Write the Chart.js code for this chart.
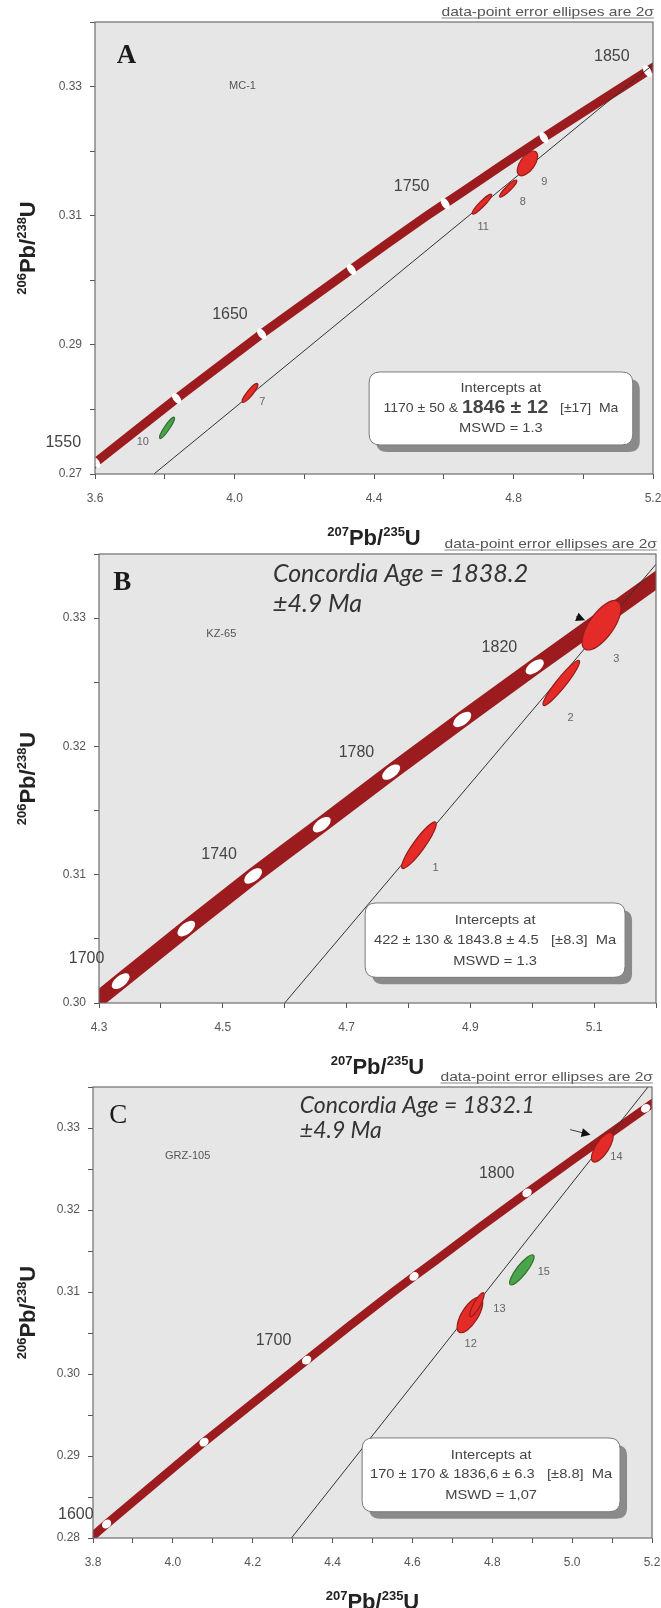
<!DOCTYPE html>
<html>
<head>
<meta charset="utf-8">
<script src="https://cdn.jsdelivr.net/npm/chart.js@4.4.1/dist/chart.umd.min.js"></script>
<style>
	html, body { margin: 0; padding: 0; background: #ffffff; }
	#page { position: relative; width: 661px; height: 1608px; overflow: hidden; }
	.panel { position: absolute; left: 0; width: 661px; height: 546px; }
</style>
</head>
<body>
<div id="page">
	<div class="panel" style="top:0px"><canvas id="chartA" width="661" height="546"></canvas></div>
	<div class="panel" style="top:530px"><canvas id="chartB" width="661" height="546"></canvas></div>
	<div class="panel" style="top:1062px"><canvas id="chartC" width="661" height="546"></canvas></div>
</div>
<script>
// concordia curve, read along the band (age in Ma, 207Pb/235U, 206Pb/238U)
var concAge = [1540, 1550, 1590, 1600, 1650, 1700, 1720, 1740, 1750, 1760, 1780, 1800, 1820, 1840, 1850, 1860];
var concX = [3.557, 3.602, 3.787, 3.834, 4.078, 4.335, 4.441, 4.549, 4.604, 4.660, 4.772, 4.887, 5.004, 5.123, 5.184, 5.245];
var concY = [0.2698, 0.2718, 0.2797, 0.2817, 0.2917, 0.3017, 0.3058, 0.3099, 0.3119, 0.3139, 0.3180, 0.3221, 0.3262, 0.3303, 0.3324, 0.3345];

// ---- panel A : MC-1
var aXTicks = [3.6, 3.8, 4.0, 4.2, 4.4, 4.6, 4.8, 5.0, 5.2];
var aXLabels = ['3.6', '', '4.0', '', '4.4', '', '4.8', '', '5.2'];
var aYTicks = [0.27, 0.28, 0.29, 0.30, 0.31, 0.32, 0.33, 0.34];
var aYLabels = ['0.27', '', '0.29', '', '0.31', '', '0.33', ''];
var aMarkerAges = [1550, 1600, 1650, 1700, 1750, 1800, 1850];
var aAgeLabels = ['1550', '1650', '1750', '1850'];
var aAgeLabelX = [3.509, 3.987, 4.508, 5.082];
var aAgeLabelY = [0.2748, 0.2947, 0.3145, 0.3346];
var aDiscordiaX = [3.769, 5.2];
var aDiscordiaY = [0.27, 0.3334];
var aSpotIds = ['10', '7', '11', '8', '9'];
var aSpotUsed = [false, true, true, true, true];
var aSpotAxis = [
	[3.786, 0.2755, 3.827, 0.2788],
	[4.023, 0.2811, 4.066, 0.2840],
	[4.682, 0.3103, 4.737, 0.3133],
	[4.761, 0.3129, 4.809, 0.3155],
	[4.816, 0.3163, 4.864, 0.3199]
];
var aSpotRatio = [0.2, 0.24, 0.2, 0.22, 0.5];
var aSpotLabelX = [3.737, 4.080, 4.713, 4.827, 4.888];
var aSpotLabelY = [0.2749, 0.2811, 0.3083, 0.3122, 0.3152];
var aIntercepts = ['Intercepts at', '1170 ± 50 & ', '1846 ± 12', '   [±17]  Ma', 'MSWD = 1.3'];

// ---- panel B : KZ-65
var bXTicks = [4.3, 4.4, 4.5, 4.6, 4.7, 4.8, 4.9, 5.0, 5.1, 5.2];
var bXLabels = ['4.3', '', '4.5', '', '4.7', '', '4.9', '', '5.1', ''];
var bYTicks = [0.300, 0.305, 0.310, 0.315, 0.320, 0.325, 0.330, 0.335];
var bYLabels = ['0.30', '', '0.31', '', '0.32', '', '0.33', ''];
var bMarkerAges = [1700, 1720, 1740, 1760, 1780, 1800, 1820, 1840];
var bAgeLabels = ['1700', '1740', '1780', '1820'];
var bAgeLabelX = [4.280, 4.494, 4.716, 4.947];
var bAgeLabelY = [0.3035, 0.3116, 0.3195, 0.3277];
var bDiscordiaX = [4.600, 5.2];
var bDiscordiaY = [0.30, 0.3342];
var bSpotIds = ['1', '2', '3'];
var bSpotUsed = [true, true, true];
var bSpotAxis = [
	[4.790, 0.3105, 4.844, 0.3141],
	[5.018, 0.3232, 5.076, 0.3267],
	[5.085, 0.3276, 5.139, 0.3313]
];
var bSpotRatio = [0.2, 0.17, 0.42];
var bSpotLabelX = [4.844, 5.062, 5.136];
var bSpotLabelY = [0.3105, 0.3222, 0.3268];
var bIntercepts = ['Intercepts at', '422 ± 130 & 1843.8 ± 4.5   [±8.3]  Ma', 'MSWD = 1.3'];
var bConcordiaAge = ['Concordia Age = 1838.2', '±4.9 Ma'];

// ---- panel C : GRZ-105
var cXTicks = [3.8, 3.9, 4.0, 4.1, 4.2, 4.3, 4.4, 4.5, 4.6, 4.7, 4.8, 4.9, 5.0, 5.1, 5.2];
var cXLabels = ['3.8', '', '4.0', '', '4.2', '', '4.4', '', '4.6', '', '4.8', '', '5.0', '', '5.2'];
var cYTicks = [0.280, 0.285, 0.290, 0.295, 0.300, 0.305, 0.310, 0.315, 0.320, 0.325, 0.330, 0.335];
var cYLabels = ['0.28', '', '0.29', '', '0.30', '', '0.31', '', '0.32', '', '0.33', ''];
var cMarkerAges = [1600, 1650, 1700, 1750, 1800, 1850];
var cAgeLabels = ['1600', '1700', '1800'];
var cAgeLabelX = [3.757, 4.252, 4.811];
var cAgeLabelY = [0.2829, 0.3041, 0.3244];
var cDiscordiaX = [4.297, 5.19];
var cDiscordiaY = [0.28, 0.335];
var cSpotIds = ['12', '13', '14', '15'];
var cSpotUsed = [true, true, true, false];
var cSpotAxis = [
	[4.717, 0.3051, 4.771, 0.3093],
	[4.745, 0.3070, 4.778, 0.3099],
	[5.052, 0.3259, 5.099, 0.3294],
	[4.845, 0.3109, 4.903, 0.3145]
];
var cSpotRatio = [0.4, 0.25, 0.38, 0.27];
var cSpotLabelX = [4.746, 4.818, 5.111, 4.929];
var cSpotLabelY = [0.3037, 0.3079, 0.3265, 0.3124];
var cIntercepts = ['Intercepts at', '170 ± 170 & 1836,6 ± 6.3   [±8.8]  Ma', 'MSWD = 1,07'];
var cConcordiaAge = ['Concordia Age = 1832.1', '±4.9 Ma'];

var sans = '"Liberation Sans", Arial, Helvetica, sans-serif';
var bandColor = '#9c1b1f';
var plotFill = '#e6e6e6';

var panels = [
	{
		id: 'chartA', letter: 'A', letterFont: 'bold 27px "Liberation Serif", "Times New Roman", serif', letterAt: [3.690, 0.3348],
		sample: 'MC-1', sampleAt: [4.023, 0.3301],
		xMin: 3.6, xMax: 5.2, yMin: 0.27, yMax: 0.34,
		xTicks: aXTicks, xLabels: aXLabels, yTicks: aYTicks, yLabels: aYLabels,
		area: { left: 95, top: 22, right: 653, bottom: 474 },
		band: 9, marker: [3.5, 6.5], markerAges: aMarkerAges,
		ageLabels: aAgeLabels, ageLabelX: aAgeLabelX, ageLabelY: aAgeLabelY,
		discX: aDiscordiaX, discY: aDiscordiaY,
		spotIds: aSpotIds, spotUsed: aSpotUsed, spotAxis: aSpotAxis, spotRatio: aSpotRatio,
		spotLabelX: aSpotLabelX, spotLabelY: aSpotLabelY,
		box: [4.386, 0.2858, 5.142, 0.2745], intercepts: aIntercepts,
		concordia: null, concordiaAt: null, concordiaFont: null, arrow: null
	},
	{
		id: 'chartB', letter: 'B', letterFont: 'bold 27px "Liberation Serif", "Times New Roman", serif', letterAt: [4.3376, 0.3327],
		sample: 'KZ-65', sampleAt: [4.4976, 0.3288],
		xMin: 4.3, xMax: 5.2, yMin: 0.30, yMax: 0.335,
		xTicks: bXTicks, xLabels: bXLabels, yTicks: bYTicks, yLabels: bYLabels,
		area: { left: 99, top: 24, right: 656, bottom: 473 },
		band: 16, marker: [10.5, 5.5], markerAges: bMarkerAges,
		ageLabels: bAgeLabels, ageLabelX: bAgeLabelX, ageLabelY: bAgeLabelY,
		discX: bDiscordiaX, discY: bDiscordiaY,
		spotIds: bSpotIds, spotUsed: bSpotUsed, spotAxis: bSpotAxis, spotRatio: bSpotRatio,
		spotLabelX: bSpotLabelX, spotLabelY: bSpotLabelY,
		box: [4.730, 0.3078, 5.150, 0.3020], intercepts: bIntercepts,
		concordia: bConcordiaAge, concordiaAt: [4.581, 0.33341, 0.33107],
		concordiaFont: 'italic 25px Lato, "Open Sans", sans-serif',
		arrow: [5.071, 0.33012, 5.078, 0.32998]
	},
	{
		id: 'chartC', letter: 'C', letterFont: '27px "Liberation Serif", "Times New Roman", serif', letterAt: [3.863, 0.3315],
		sample: 'GRZ-105', sampleAt: [4.037, 0.3266],
		xMin: 3.8, xMax: 5.2, yMin: 0.28, yMax: 0.335,
		xTicks: cXTicks, xLabels: cXLabels, yTicks: cYTicks, yLabels: cYLabels,
		area: { left: 93, top: 25, right: 652, bottom: 476 },
		band: 8.5, marker: [5, 4], markerAges: cMarkerAges,
		ageLabels: cAgeLabels, ageLabelX: cAgeLabelX, ageLabelY: cAgeLabelY,
		discX: cDiscordiaX, discY: cDiscordiaY,
		spotIds: cSpotIds, spotUsed: cSpotUsed, spotAxis: cSpotAxis, spotRatio: cSpotRatio,
		spotLabelX: cSpotLabelX, spotLabelY: cSpotLabelY,
		box: [4.474, 0.2922, 5.120, 0.2832], intercepts: cIntercepts,
		concordia: cConcordiaAge, concordiaAt: [4.318, 0.33268, 0.32963],
		concordiaFont: 'italic 23px Lato, "Open Sans", sans-serif',
		arrow: [4.995, 0.3298, 5.034, 0.32932]
	}
];

var toPoints = function(xs, ys) {
	var out = [];
	for (var i = 0; i < xs.length; i++) {
		out.push({ x: xs[i], y: ys[i] });
	}
	return out;
};

var px = function(chart, x, y) {
	return [chart.scales.x.getPixelForValue(x), chart.scales.y.getPixelForValue(y)];
};

var roundRect = function(ctx, x, y, w, h, r) {
	ctx.beginPath();
	ctx.moveTo(x + r, y);
	ctx.lineTo(x + w - r, y);
	ctx.quadraticCurveTo(x + w, y, x + w, y + r);
	ctx.lineTo(x + w, y + h - r);
	ctx.quadraticCurveTo(x + w, y + h, x + w - r, y + h);
	ctx.lineTo(x + r, y + h);
	ctx.quadraticCurveTo(x, y + h, x, y + h - r);
	ctx.lineTo(x, y + r);
	ctx.quadraticCurveTo(x, y, x + r, y);
	ctx.closePath();
};

// 206Pb/238U style title with superscript mass numbers
var drawRatio = function(ctx, parts, cx, baseY) {
	var big = 'bold 22px ' + sans, small = 'bold 13px ' + sans;
	var total = 0, i;
	for (i = 0; i < parts.length; i++) {
		ctx.font = parts[i][1] ? small : big;
		total += ctx.measureText(parts[i][0]).width;
	}
	var cur = cx - total / 2;
	ctx.textAlign = 'left';
	ctx.textBaseline = 'alphabetic';
	for (i = 0; i < parts.length; i++) {
		ctx.font = parts[i][1] ? small : big;
		ctx.fillText(parts[i][0], cur, parts[i][1] ? baseY - 9 : baseY);
		cur += ctx.measureText(parts[i][0]).width;
	}
};

// centred text, stretched a little sideways like the printed figure
var wideText = function(ctx, text, x, y) {
	ctx.save();
	ctx.translate(x, y);
	ctx.scale(1.13, 1);
	ctx.fillText(text, 0, 0);
	ctx.restore();
};

var decorPlugin = function(p) {
	return {
		id: 'decor' + p.letter,
		beforeDraw: function(chart) {
			var a = chart.chartArea, ctx = chart.ctx;
			ctx.save();
			ctx.fillStyle = plotFill;
			ctx.fillRect(a.left, a.top, a.right - a.left, a.bottom - a.top);
			ctx.restore();
		},
		afterDatasetDraw: function(chart, args) {
			if (args.index !== 1) return;
			// white age ticks on the concordia band
			var ctx = chart.ctx, a = chart.chartArea;
			ctx.save();
			ctx.beginPath();
			ctx.rect(a.left, a.top, a.right - a.left, a.bottom - a.top);
			ctx.clip();
			ctx.fillStyle = '#ffffff';
			p.markerAges.forEach(function(age) {
				var i = concAge.indexOf(age);
				var j0 = Math.max(i - 1, 0), j1 = Math.min(i + 1, concAge.length - 1);
				var pt = px(chart, concX[i], concY[i]);
				var p0 = px(chart, concX[j0], concY[j0]);
				var p1 = px(chart, concX[j1], concY[j1]);
				var ang = Math.atan2(p1[1] - p0[1], p1[0] - p0[0]);
				ctx.beginPath();
				ctx.ellipse(pt[0], pt[1], p.marker[0], p.marker[1], ang, 0, Math.PI * 2);
				ctx.fill();
			});
			ctx.restore();
		},
		afterDatasetsDraw: function(chart) {
			var ctx = chart.ctx, a = chart.chartArea, i;
			ctx.save();
			ctx.beginPath();
			ctx.rect(a.left, a.top, a.right - a.left, a.bottom - a.top);
			ctx.clip();
			// error ellipses
			for (i = 0; i < p.spotIds.length; i++) {
				var s = p.spotAxis[i];
				var e1 = px(chart, s[0], s[1]), e2 = px(chart, s[2], s[3]);
				var dx = e2[0] - e1[0], dy = e2[1] - e1[1];
				var rx = Math.sqrt(dx * dx + dy * dy) / 2;
				ctx.beginPath();
				ctx.ellipse((e1[0] + e2[0]) / 2, (e1[1] + e2[1]) / 2, rx, rx * p.spotRatio[i], Math.atan2(dy, dx), 0, Math.PI * 2);
				ctx.fillStyle = p.spotUsed[i] ? '#e42b28' : '#4aa54a';
				ctx.fill();
				ctx.lineWidth = 1.2;
				ctx.strokeStyle = p.spotUsed[i] ? '#951c1b' : '#2f6e2f';
				ctx.stroke();
			}
			// pointer arrow
			if (p.arrow) {
				var t = px(chart, p.arrow[0], p.arrow[1]), h = px(chart, p.arrow[2], p.arrow[3]);
				var ang = Math.atan2(h[1] - t[1], h[0] - t[0]);
				ctx.strokeStyle = '#111';
				ctx.lineWidth = 0.8;
				ctx.beginPath();
				ctx.moveTo(t[0], t[1]);
				ctx.lineTo(h[0], h[1]);
				ctx.stroke();
				ctx.fillStyle = '#111';
				ctx.beginPath();
				ctx.moveTo(h[0] + Math.cos(ang) * 5, h[1] + Math.sin(ang) * 5);
				ctx.lineTo(h[0] - Math.cos(ang) * 4 - Math.sin(ang) * 4.5, h[1] - Math.sin(ang) * 4 + Math.cos(ang) * 4.5);
				ctx.lineTo(h[0] - Math.cos(ang) * 4 + Math.sin(ang) * 4.5, h[1] - Math.sin(ang) * 4 - Math.cos(ang) * 4.5);
				ctx.closePath();
				ctx.fill();
			}
			ctx.restore();

			ctx.save();
			// frame
			ctx.strokeStyle = '#6e6e6e';
			ctx.lineWidth = 1.2;
			ctx.strokeRect(a.left, a.top, a.right - a.left, a.bottom - a.top);

			ctx.textAlign = 'center';
			ctx.textBaseline = 'middle';
			// spot numbers
			ctx.fillStyle = '#666';
			ctx.font = '11px ' + sans;
			for (i = 0; i < p.spotIds.length; i++) {
				var lp = px(chart, p.spotLabelX[i], p.spotLabelY[i]);
				ctx.fillText(p.spotIds[i], lp[0], lp[1]);
			}
			// ages along the concordia
			ctx.fillStyle = '#444';
			ctx.font = '16px ' + sans;
			for (i = 0; i < p.ageLabels.length; i++) {
				var ap = px(chart, p.ageLabelX[i], p.ageLabelY[i]);
				ctx.fillText(p.ageLabels[i], ap[0], ap[1]);
			}
			// panel letter and sample name
			var lt = px(chart, p.letterAt[0], p.letterAt[1]);
			ctx.fillStyle = '#1a1a1a';
			ctx.font = p.letterFont;
			ctx.fillText(p.letter, lt[0], lt[1]);
			var sm = px(chart, p.sampleAt[0], p.sampleAt[1]);
			ctx.fillStyle = '#555';
			ctx.font = '11px ' + sans;
			ctx.fillText(p.sample, sm[0], sm[1]);
			// concordia age
			if (p.concordia) {
				ctx.textAlign = 'left';
				ctx.fillStyle = '#333';
				ctx.font = p.concordiaFont;
				var c1 = px(chart, p.concordiaAt[0], p.concordiaAt[1]);
				var c2 = px(chart, p.concordiaAt[0], p.concordiaAt[2]);
				ctx.fillText(p.concordia[0], c1[0], c1[1]);
				ctx.fillText(p.concordia[1], c2[0], c2[1]);
			}
			// intercept box
			var b1 = px(chart, p.box[0], p.box[1]), b2 = px(chart, p.box[2], p.box[3]);
			var bw = b2[0] - b1[0], bh = b2[1] - b1[1];
			ctx.fillStyle = '#8a8a8a';
			roundRect(ctx, b1[0] + 7, b1[1] + 7, bw, bh, 11);
			ctx.fill();
			ctx.fillStyle = '#ffffff';
			roundRect(ctx, b1[0], b1[1], bw, bh, 11);
			ctx.fill();
			ctx.strokeStyle = '#7a7a7a';
			ctx.lineWidth = 1;
			ctx.stroke();
			var mid = b1[0] + bw / 2;
			ctx.textAlign = 'center';
			ctx.fillStyle = '#444';
			ctx.font = '13px ' + sans;
			wideText(ctx, p.intercepts[0], mid, b1[1] + bh * 0.23);
			wideText(ctx, p.intercepts[p.intercepts.length - 1], mid, b1[1] + bh * 0.78);
			if (p.intercepts.length === 5) {
				var fonts = ['13px ' + sans, 'bold 18px ' + sans, '13px ' + sans];
				var w = 0, k;
				for (k = 0; k < 3; k++) {
					ctx.font = fonts[k];
					w += ctx.measureText(p.intercepts[k + 1]).width;
				}
				ctx.save();
				ctx.translate(mid, b1[1] + bh * 0.5);
				ctx.scale(1.08, 1);
				var cur = -w / 2;
				ctx.textAlign = 'left';
				for (k = 0; k < 3; k++) {
					ctx.font = fonts[k];
					ctx.fillText(p.intercepts[k + 1], cur, 0);
					cur += ctx.measureText(p.intercepts[k + 1]).width;
				}
				ctx.restore();
			} else {
				wideText(ctx, p.intercepts[1], mid, b1[1] + bh * 0.5);
			}

			// header note, underlined (a little stretched, like the figure)
			ctx.save();
			ctx.translate(a.right + 1, a.top - 6);
			ctx.scale(1.2, 1);
			ctx.textAlign = 'right';
			ctx.textBaseline = 'alphabetic';
			ctx.fillStyle = '#555';
			ctx.font = '13px ' + sans;
			var note = 'data-point error ellipses are 2σ';
			var nw = ctx.measureText(note).width;
			ctx.fillText(note, 0, 0);
			ctx.strokeStyle = '#777';
			ctx.lineWidth = 0.8;
			ctx.beginPath();
			ctx.moveTo(-nw, 2);
			ctx.lineTo(0, 2);
			ctx.stroke();
			ctx.restore();

			// axis titles
			ctx.fillStyle = '#222';
			drawRatio(ctx, [['207', 1], ['Pb/', 0], ['235', 1], ['U', 0]], (a.left + a.right) / 2, a.bottom + 71);
			ctx.translate(27, (a.top + a.bottom) / 2);
			ctx.rotate(-Math.PI / 2);
			drawRatio(ctx, [['206', 1], ['Pb/', 0], ['238', 1], ['U', 0]], 0, 8);
			ctx.restore();
		}
	};
};

var drawPanel = function(p) {
	var datasets = [
		{
			data: toPoints(p.discX, p.discY),
			showLine: true, borderColor: '#333333', borderWidth: 1,
			pointRadius: 0, clip: 0
		},
		{
			data: toPoints(concX, concY),
			showLine: true, borderColor: bandColor, borderWidth: p.band,
			borderCapStyle: 'butt', borderJoinStyle: 'round',
			pointRadius: 0, clip: 0
		}
	];
	var tickFont = { family: sans, size: 12 };
	new Chart(document.getElementById(p.id), {
		type: 'scatter',
		data: { datasets: datasets },
		options: {
			responsive: false,
			animation: false,
			events: [],
			layout: { padding: { top: p.area.top, right: 661 - p.area.right, bottom: 0, left: 0 } },
			plugins: { legend: { display: false }, tooltip: { enabled: false } },
			scales: {
				x: {
					type: 'linear', min: p.xMin, max: p.xMax,
					afterBuildTicks: function(scale) {
						scale.ticks = p.xTicks.map(function(v) { return { value: v }; });
					},
					afterFit: function(scale) {
						scale.height = 546 - p.area.bottom;
						scale.paddingLeft = 0;
						scale.paddingRight = 0;
					},
					ticks: {
						autoSkip: false, maxRotation: 0, padding: 12, color: '#555', font: tickFont,
						callback: function(v, i) { return p.xLabels[i]; }
					},
					grid: { drawOnChartArea: false, drawTicks: true, tickLength: 5, tickColor: '#555' },
					border: { display: false }
				},
				y: {
					type: 'linear', min: p.yMin, max: p.yMax,
					afterBuildTicks: function(scale) {
						scale.ticks = p.yTicks.map(function(v) { return { value: v }; });
					},
					afterFit: function(scale) {
						scale.width = p.area.left;
						scale.paddingTop = 0;
						scale.paddingBottom = 0;
					},
					ticks: {
						autoSkip: false, padding: 8, color: '#555', font: tickFont,
						callback: function(v, i) { return p.yLabels[i]; }
					},
					grid: { drawOnChartArea: false, drawTicks: true, tickLength: 5, tickColor: '#555' },
					border: { display: false }
				}
			}
		},
		plugins: [decorPlugin(p)]
	});
};

panels.forEach(drawPanel);
</script>
</body>
</html>
